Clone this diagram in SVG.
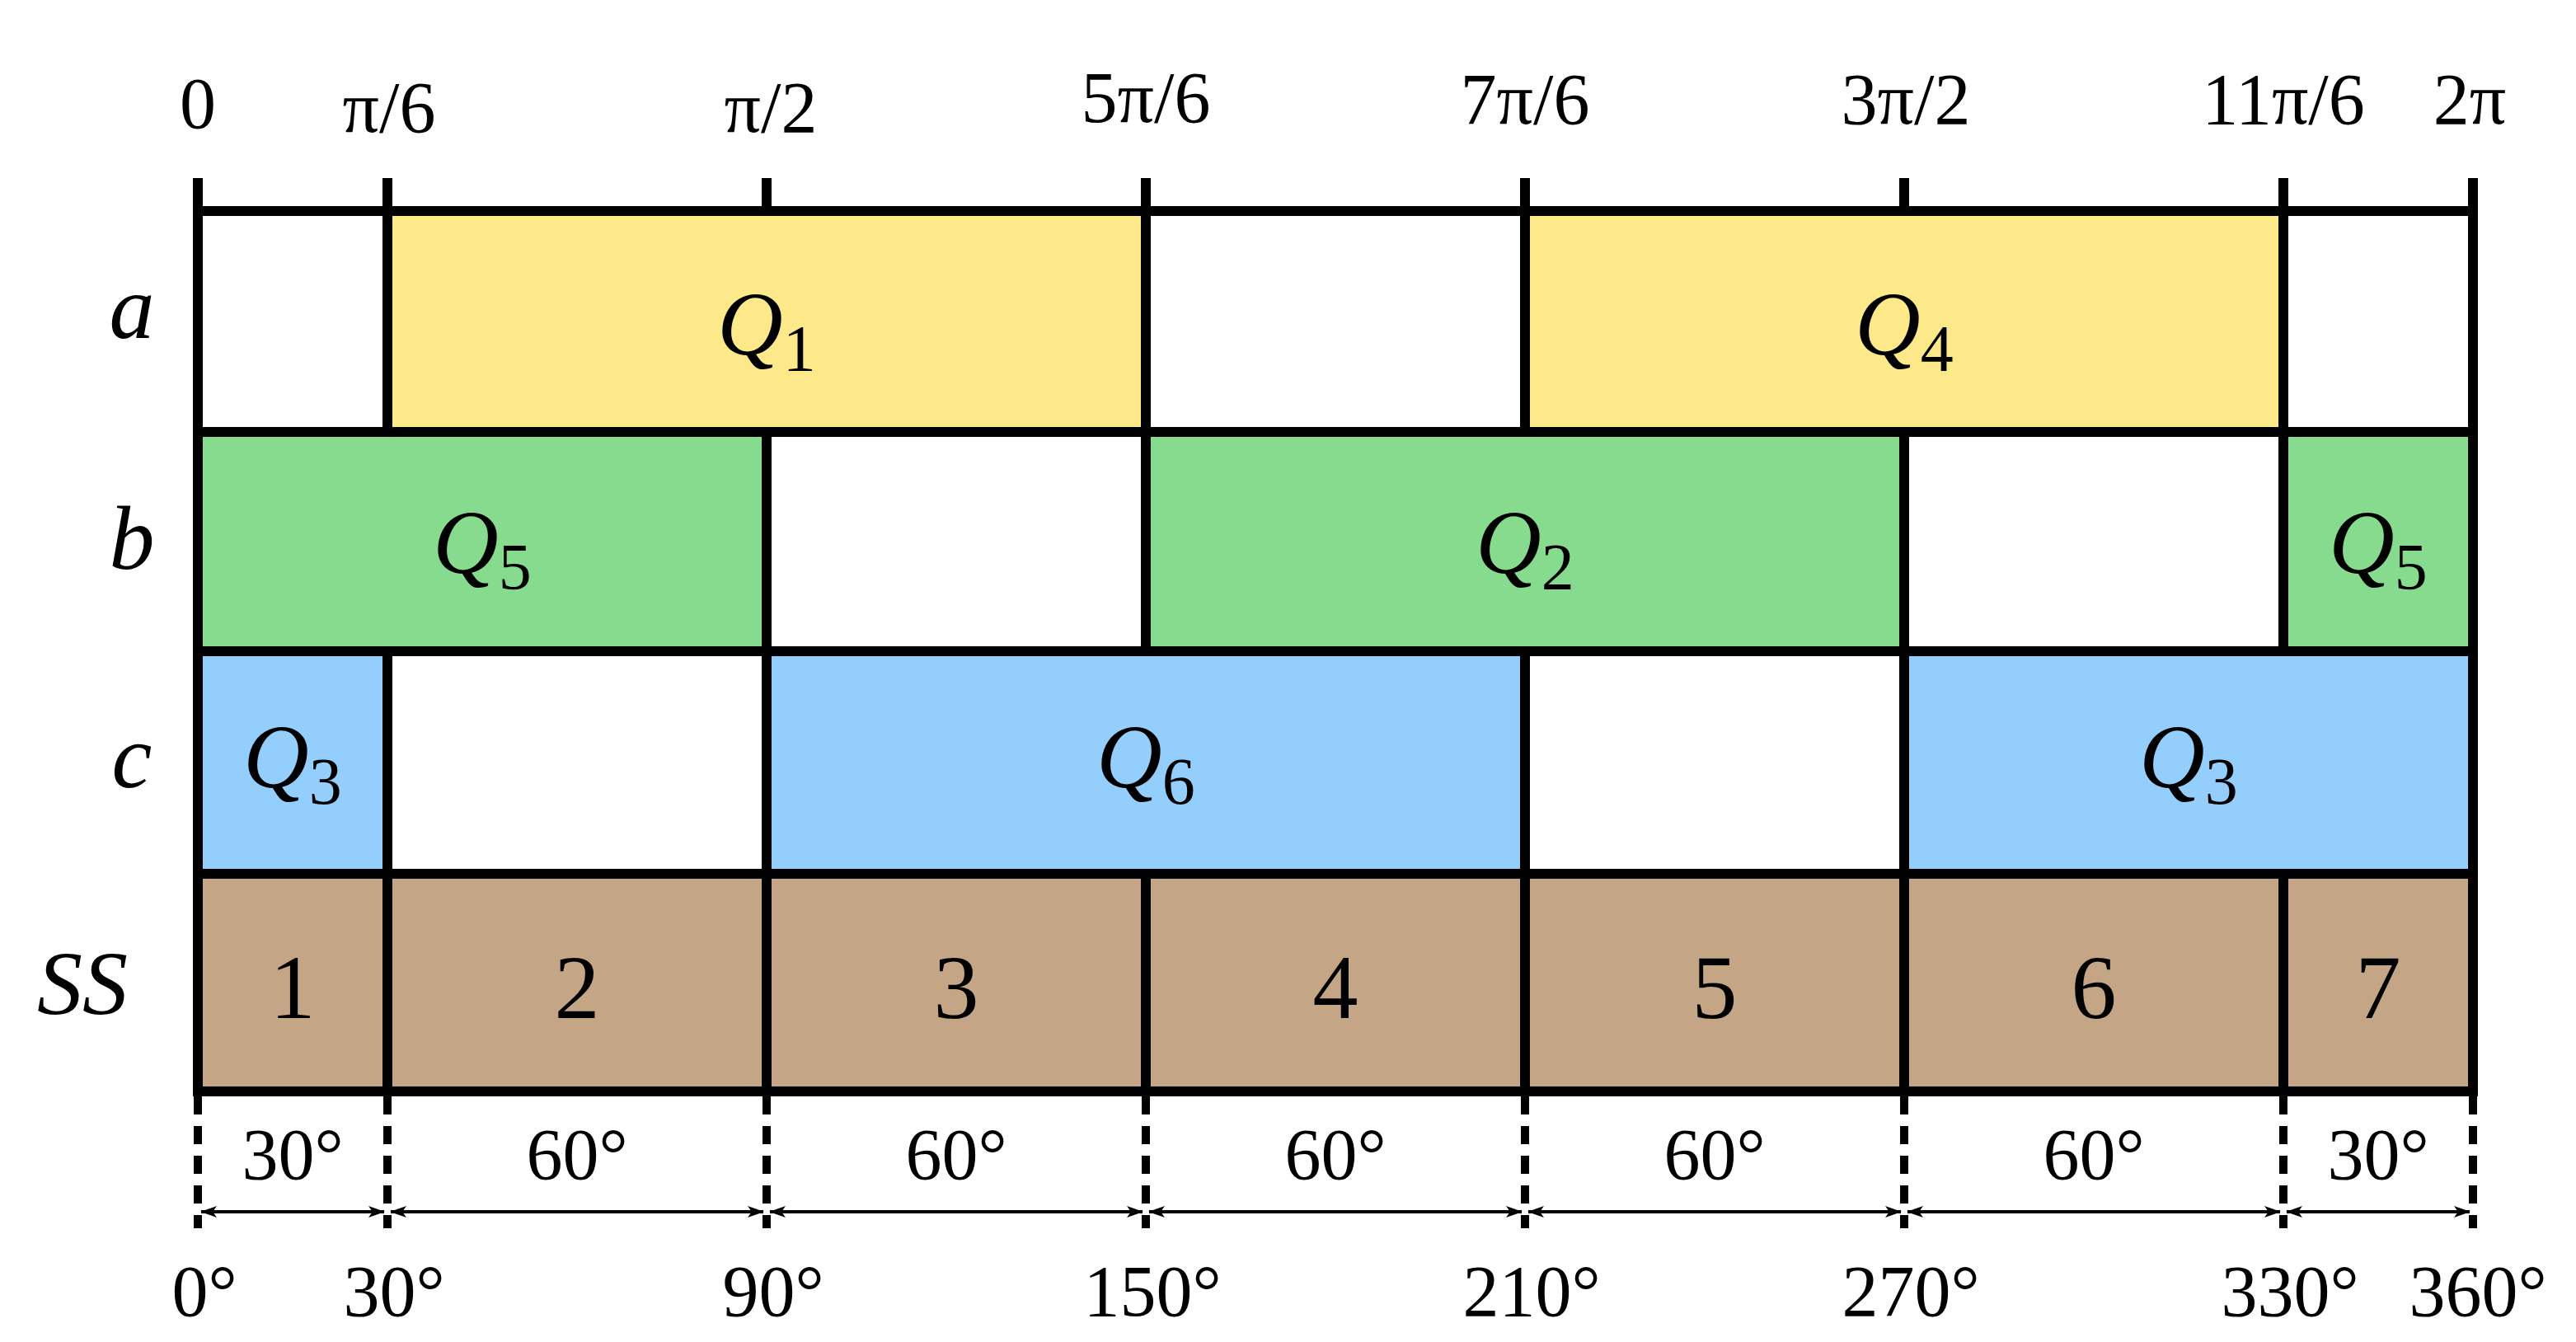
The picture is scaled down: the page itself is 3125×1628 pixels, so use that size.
<svg xmlns="http://www.w3.org/2000/svg" width="3125" height="1628" viewBox="0 0 3125 1628">
<style>
.t{font-family:"Liberation Serif","DejaVu Serif",serif;fill:#000}
.q{font-style:italic;font-size:110px;text-anchor:middle}
.n{font-size:110px;text-anchor:middle}
.s{font-size:88px;text-anchor:middle}
.r{font-style:italic;font-size:110px;text-anchor:middle}
.ln{stroke:#000;stroke-width:12;fill:none}
.d{stroke:#000;stroke-width:10;stroke-dasharray:22,14}
.ar{stroke:#000;stroke-width:4;marker-start:url(#h);marker-end:url(#h)}
</style>
<defs><marker id="h" viewBox="0 0 20 14" refX="19" refY="7" markerWidth="20" markerHeight="14" markerUnits="userSpaceOnUse" orient="auto-start-reverse"><path d="M0,0 L20,7 L0,14 L5,7 Z" fill="#000"/></marker></defs>
<rect width="3125" height="1628" fill="#fff"/>
<g id="fills">
<rect x="470" y="256" width="920" height="268" fill="#FDE98A"/>
<rect x="1850" y="256" width="920" height="268" fill="#FDE98A"/>
<rect x="240" y="524" width="690" height="266" fill="#86DB8F"/>
<rect x="1390" y="524" width="920" height="266" fill="#86DB8F"/>
<rect x="2770" y="524" width="230" height="266" fill="#86DB8F"/>
<rect x="240" y="790" width="230" height="270" fill="#93CEFD"/>
<rect x="930" y="790" width="920" height="270" fill="#93CEFD"/>
<rect x="2310" y="790" width="690" height="270" fill="#93CEFD"/>
<rect x="240" y="1060" width="2760" height="264" fill="#C4A586"/>
</g>
<g id="connectors">
<path class="ln" d="M240,256H3000M240,524H3000M240,790H3000M240,1060H3000M234,1324H3006"/>
<path class="ln" d="M240,216V1324M3000,216V1324M470,216V256M930,216V256M1390,216V256M1850,216V256M2310,216V256M2770,216V256"/>
<path class="ln" d="M470,256V524M1390,256V524M1850,256V524M2770,256V524M930,524V790M1390,524V790M2310,524V790M2770,524V790M470,790V1060M930,790V1060M1850,790V1060M2310,790V1060M470,1060V1324M930,1060V1324M1390,1060V1324M1850,1060V1324M2310,1060V1324M2770,1060V1324"/>
<path class="d" d="M240,1330V1490M470,1330V1490M930,1330V1490M1390,1330V1490M1850,1330V1490M2310,1330V1490M2770,1330V1490M3000,1330V1490"/>
<line class="ar" x1="244" y1="1470" x2="466" y2="1470"/>
<line class="ar" x1="474" y1="1470" x2="926" y2="1470"/>
<line class="ar" x1="934" y1="1470" x2="1386" y2="1470"/>
<line class="ar" x1="1394" y1="1470" x2="1846" y2="1470"/>
<line class="ar" x1="1854" y1="1470" x2="2306" y2="1470"/>
<line class="ar" x1="2314" y1="1470" x2="2766" y2="1470"/>
<line class="ar" x1="2774" y1="1470" x2="2996" y2="1470"/>
</g>
<g id="labels" class="t">
<text class="s" x="240" y="155">0</text><text class="s" x="472" y="160">π/6</text><text class="s" x="935" y="160">π/2</text><text class="s" x="1390" y="148">5π/6</text><text class="s" x="1850" y="150">7π/6</text><text class="s" x="2312" y="150">3π/2</text><text class="s" x="2770" y="150">11π/6</text><text class="s" x="2996" y="150">2π</text>
<text class="r" x="160" y="410">a</text><text class="r" x="160" y="690">b</text><text class="r" x="160" y="955">c</text><text class="r" x="100" y="1230">SS</text>
<text class="q" x="930" y="430">Q<tspan font-style="normal" font-size="80" dy="20">1</tspan></text>
<text class="q" x="2310" y="430">Q<tspan font-style="normal" font-size="80" dy="20">4</tspan></text>
<text class="q" x="585" y="695">Q<tspan font-style="normal" font-size="80" dy="20">5</tspan></text>
<text class="q" x="1850" y="695">Q<tspan font-style="normal" font-size="80" dy="20">2</tspan></text>
<text class="q" x="2885" y="695">Q<tspan font-style="normal" font-size="80" dy="20">5</tspan></text>
<text class="q" x="355" y="955">Q<tspan font-style="normal" font-size="80" dy="20">3</tspan></text>
<text class="q" x="1390" y="955">Q<tspan font-style="normal" font-size="80" dy="20">6</tspan></text>
<text class="q" x="2655" y="955">Q<tspan font-style="normal" font-size="80" dy="20">3</tspan></text>
<text class="n" x="355" y="1235">1</text><text class="n" x="700" y="1235">2</text><text class="n" x="1160" y="1235">3</text><text class="n" x="1620" y="1235">4</text><text class="n" x="2080" y="1235">5</text><text class="n" x="2540" y="1235">6</text><text class="n" x="2885" y="1235">7</text>
<text class="s" x="355" y="1430">30°</text><text class="s" x="700" y="1430">60°</text><text class="s" x="1160" y="1430">60°</text><text class="s" x="1620" y="1430">60°</text><text class="s" x="2080" y="1430">60°</text><text class="s" x="2540" y="1430">60°</text><text class="s" x="2885" y="1430">30°</text>
<text class="s" x="248" y="1596">0°</text><text class="s" x="478" y="1596">30°</text><text class="s" x="938" y="1596">90°</text><text class="s" x="1398" y="1596">150°</text><text class="s" x="1858" y="1596">210°</text><text class="s" x="2318" y="1596">270°</text><text class="s" x="2778" y="1596">330°</text><text class="s" x="3006" y="1596">360°</text>
</g>
</svg>
